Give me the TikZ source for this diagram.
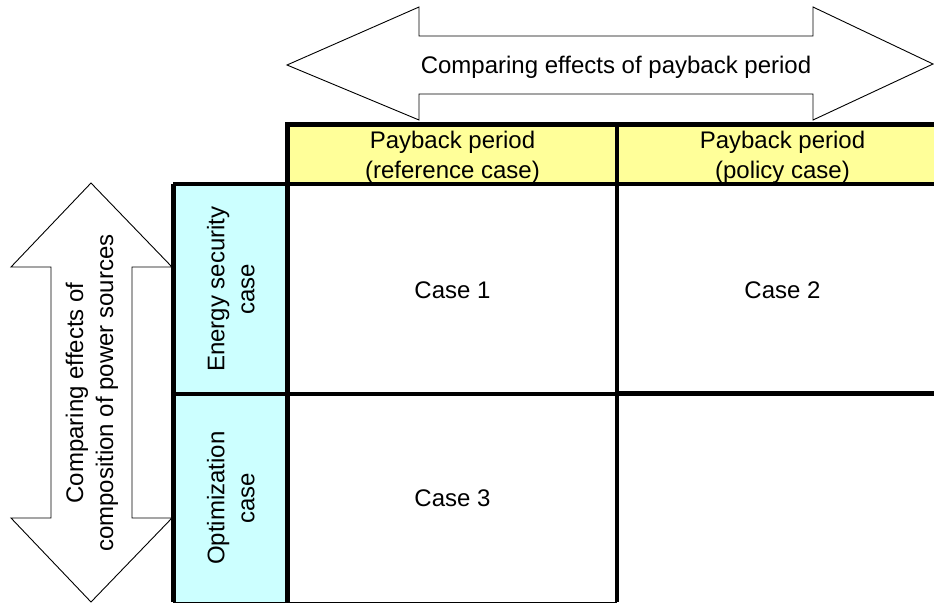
\documentclass[tikz,border=0pt]{standalone}
\usepackage{fontspec}
\setmainfont{Liberation Sans}
\definecolor{headyellow}{HTML}{FFFF99}
\definecolor{rowcyan}{HTML}{CCFFFF}
\begin{document}
\begin{tikzpicture}[x=1pt,y=-1pt,
  every node/.style={font=\fontsize{24}{30}\selectfont, inner sep=0pt, align=center},
  headcell/.style={rectangle, fill=headyellow, minimum height=64pt},
  rowcell/.style={rectangle, fill=rowcyan, rotate=90, minimum height=114.5pt},
  bodycell/.style={rectangle, fill=white},
  outerrule/.style={line width=5pt, line join=miter},
  innerrule/.style={line width=4.5pt},
  midrule/.style={line width=3.5pt},
  edgerule/.style={line width=1pt},
  bigarrow/.style={draw=black, fill=white, line width=0.9pt, line join=miter}]
\useasboundingbox (0,0) rectangle (934,603);

% comparison arrows
\draw[bigarrow] (287,65) -- (419,7) -- (419,36) -- (813,36) -- (813,7) -- (933,64)
  -- (813,120) -- (813,94) -- (419,94) -- (419,120) -- cycle;
\node (paylabel) at (616,67) {Comparing effects of payback period};

\draw[bigarrow] (91,183) -- (172,267) -- (132,267) -- (132,518) -- (172,518)
  -- (91,602) -- (11,518) -- (51,518) -- (51,267) -- (11,267) -- cycle;
\node[rotate=90] (mixlabel) at (92,393) {Comparing effects of\\composition of power sources};

% header cells (their lower edge is covered by the body cells)
\node[headcell, minimum width=329pt] (h1) at (452.5,157) {Payback period\\(reference case)};
\node[headcell, minimum width=331pt] (h2) at (782.5,157) {Payback period\\(policy case)};

% body cells
\node[rowcell, minimum width=210pt] (r1) at (230.75,289) {Energy security\\case};
\node[bodycell, minimum width=329pt, minimum height=213pt] (c1) at (452.5,290.5) {Case 1};
\node[bodycell, minimum width=331pt, minimum height=213pt] (c2) at (782.5,290.5) {Case 2};
\node[rowcell, minimum width=208pt] (r2) at (230.75,498) {Optimization\\case};
\node[bodycell, minimum width=329pt, minimum height=208pt] (c3) at (452.5,498) {Case 3};

% table rules
\draw[midrule] (r2.north east) -- (c3.north east);
\draw[outerrule] (c3.north east) -- (c2.south east |- c3.north east);
\draw[edgerule] (r2.north west) -- (c3.south east);
\draw[innerrule] (h1.north east) -- (c3.south east);
\draw[innerrule] (r1.north east) -- (r1.north east -| h2.east);
\draw[outerrule] (r2.north west) -- (r1.north east);
\draw[outerrule] (c3.south west) -- (h1.north west) -- (h2.north east);
\end{tikzpicture}
\end{document}
